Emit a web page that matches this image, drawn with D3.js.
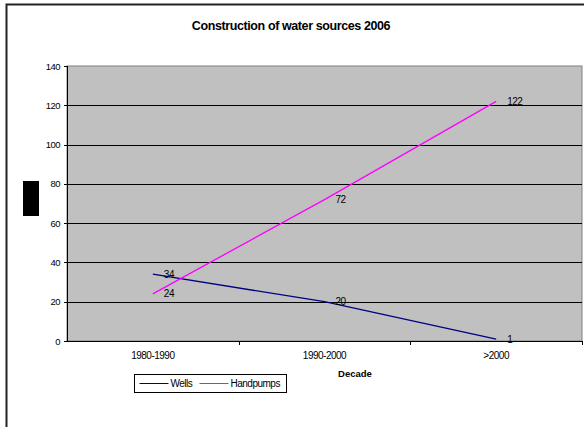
<!DOCTYPE html>
<html>
<head>
<meta charset="utf-8">
<script src="https://cdn.jsdelivr.net/npm/d3@7"></script>
<style>
  body { margin: 0; background: #fff; }
  text { font-family: "Liberation Sans", Arial, sans-serif; fill: #000; }
</style>
</head>
<body>
<svg id="chart" width="584" height="427"></svg>
<script>
const decades = ['1980-1990', '1990-2000', '>2000'];
const wells = [34, 20, 1];
const handpumps = [24, 72, 122];
const yTicks = [0, 20, 40, 60, 80, 100, 120, 140];

const svg = d3.select('#chart');

// outer chart frame
svg.append('rect')
    .attr('x', 6.5).attr('y', 4.5)
    .attr('width', 600).attr('height', 440)
    .attr('fill', 'none').attr('stroke', '#222').attr('stroke-width', 2);

const plotL = 67, plotR = 582, plotT = 66, plotB = 341;

const xScale = d3.scaleBand()
    .domain(decades)
    .range([plotL, plotR]);

const yScale = d3.scaleLinear()
    .domain([0, 140])
    .range([plotB, plotT]);

svg.append('rect')
    .attr('x', plotL).attr('y', plotT)
    .attr('width', plotR - plotL).attr('height', plotB - plotT)
    .attr('fill', '#c0c0c0').attr('stroke', '#808080');

svg.selectAll('.grid')
    .data(yTicks.filter(d => d > 0 && d < 140))
    .enter().append('line')
    .attr('x1', plotL).attr('x2', plotR)
    .attr('y1', d => Math.round(yScale(d)) + 0.5)
    .attr('y2', d => Math.round(yScale(d)) + 0.5)
    .attr('stroke', '#000');

// y axis
svg.append('line')
    .attr('x1', plotL + 0.5).attr('x2', plotL + 0.5)
    .attr('y1', plotT).attr('y2', plotB)
    .attr('stroke', '#000');
svg.selectAll('.ytick')
    .data(yTicks)
    .enter().append('line')
    .attr('x1', plotL - 3).attr('x2', plotL)
    .attr('y1', d => Math.round(yScale(d)) + 0.5)
    .attr('y2', d => Math.round(yScale(d)) + 0.5)
    .attr('stroke', '#000');
svg.selectAll('.ylab')
    .data(yTicks)
    .enter().append('text')
    .attr('x', plotL - 7)
    .attr('y', d => yScale(d) + 3.5)
    .attr('text-anchor', 'end')
    .attr('font-size', 9.5)
    .attr('letter-spacing', -0.5)
    .text(d => d);

// x axis
svg.append('line')
    .attr('x1', plotL).attr('x2', plotR)
    .attr('y1', plotB + 0.5).attr('y2', plotB + 0.5)
    .attr('stroke', '#000');
svg.selectAll('.xtick')
    .data(decades)
    .enter().append('line')
    .attr('x1', d => Math.round(xScale(d) + xScale.bandwidth()) + 0.5)
    .attr('x2', d => Math.round(xScale(d) + xScale.bandwidth()) + 0.5)
    .attr('y1', plotB).attr('y2', plotB + 4)
    .attr('stroke', '#000');
svg.selectAll('.xlab')
    .data(decades)
    .enter().append('text')
    .attr('x', d => xScale(d) + xScale.bandwidth() / 2)
    .attr('y', plotB + 18)
    .attr('text-anchor', 'middle')
    .attr('font-size', 10)
    .attr('letter-spacing', -0.5)
    .text(d => d);

const cx = d => xScale(d) + xScale.bandwidth() / 2;

const series = [
    { name: 'Wells', values: wells, color: '#000080' },
    { name: 'Handpumps', values: handpumps, color: '#ff00ff' }
];

series.forEach(s => {
    const line = d3.line()
        .x((d, i) => cx(decades[i]))
        .y(d => yScale(d));
    svg.append('path')
        .attr('d', line(s.values))
        .attr('fill', 'none')
        .attr('stroke', s.color)
        .attr('stroke-width', 1.3);
    svg.selectAll(null)
        .data(s.values)
        .enter().append('text')
        .attr('x', (d, i) => cx(decades[i]) + 11)
        .attr('y', d => yScale(d) + 3.5)
        .attr('font-size', 10)
        .attr('letter-spacing', -0.5)
        .text(d => d);
});

// title
svg.append('text')
    .attr('x', 291).attr('y', 30)
    .attr('text-anchor', 'middle')
    .attr('font-size', 12.5)
    .attr('font-weight', 'bold')
    .attr('letter-spacing', -0.4)
    .text('Construction of water sources 2006');

// x axis title
svg.append('text')
    .attr('x', 355).attr('y', 377)
    .attr('text-anchor', 'middle')
    .attr('font-size', 9.5)
    .attr('font-weight', 'bold')
    .text('Decade');

// y axis title rendered as a black block in the reference
svg.append('rect')
    .attr('x', 23).attr('y', 181)
    .attr('width', 16).attr('height', 35)
    .attr('fill', '#000');

// legend
const legend = svg.append('g').attr('transform', 'translate(134.5,374.5)');
legend.append('rect')
    .attr('width', 152).attr('height', 18)
    .attr('fill', '#fff').attr('stroke', '#000');
const legendX = [5, 65];
series.forEach((s, i) => {
    legend.append('line')
        .attr('x1', legendX[i]).attr('x2', legendX[i] + 29)
        .attr('y1', 9).attr('y2', 9)
        .attr('stroke', s.color);
    legend.append('text')
        .attr('x', legendX[i] + 31).attr('y', 12.5)
        .attr('font-size', 10)
        .attr('letter-spacing', -0.5)
        .text(s.name);
});
</script>
</body>
</html>
